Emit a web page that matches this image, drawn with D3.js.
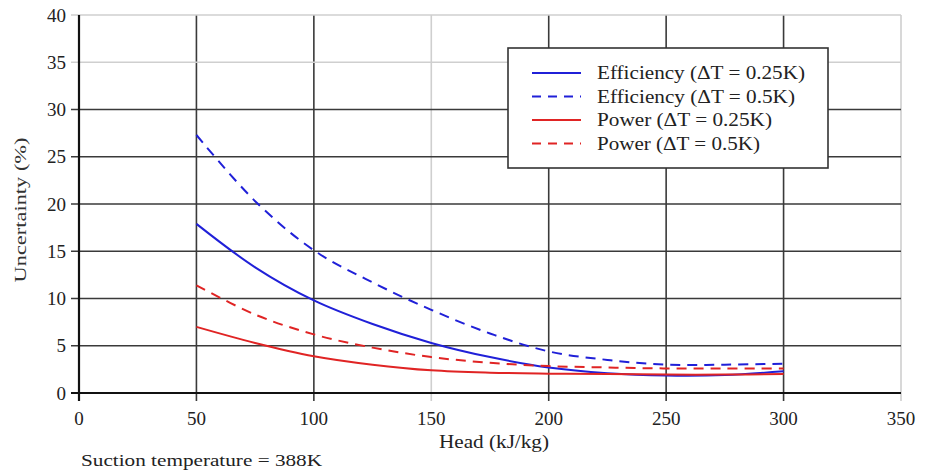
<!DOCTYPE html>
<html><head><meta charset="utf-8">
<script src="https://cdn.jsdelivr.net/npm/d3@7"></script>
<style>body{margin:0;background:#fff}svg{display:block}</style>
</head><body><svg id="c" width="927" height="471" font-family="'Liberation Serif', 'DejaVu Serif', serif"></svg>
<script>
const head = [50, 75, 100, 125, 150, 175, 200, 225, 250, 275, 300];
const effSolid = [17.9, 13.3, 9.8, 7.3, 5.3, 3.8, 2.7, 2.1, 1.85, 1.9, 2.3];
const effDashed = [27.3, 20.3, 15.1, 11.7, 8.8, 6.3, 4.4, 3.5, 3.0, 3.0, 3.1];
const powSolid = [7.0, 5.3, 3.9, 3.0, 2.4, 2.15, 2.05, 2.0, 1.95, 1.95, 2.0];
const powDashed = [11.4, 8.3, 6.2, 4.8, 3.8, 3.2, 2.85, 2.7, 2.6, 2.6, 2.6];
const xTicks = [0, 50, 100, 150, 200, 250, 300, 350];
const yTicks = [0, 5, 10, 15, 20, 25, 30, 35, 40];
const lightX = [150, 350];
const lightY = [35, 40];
const seriesNames = ["Efficiency (ΔT = 0.25K)", "Efficiency (ΔT = 0.5K)", "Power (ΔT = 0.25K)", "Power (ΔT = 0.5K)"];
const seriesData = [effSolid, effDashed, powSolid, powDashed];
const seriesColor = ["#2020d8", "#2020d8", "#e02424", "#e02424"];
const seriesDash = [null, "10,7", null, "10,7"];

const svg = d3.select("#c");
const x = d3.scaleLinear().domain([0, 350]).range([79, 901]);
const y = d3.scaleLinear().domain([0, 40]).range([393, 15]);

svg.append("g").selectAll("line").data(xTicks.filter(d => d > 0)).join("line")
  .attr("x1", d => x(d)).attr("x2", d => x(d)).attr("y1", y(40)).attr("y2", y(0) + 8)
  .attr("stroke", d => lightX.includes(d) ? "#cfcfcf" : "#3a3a3a").attr("stroke-width", 1.6);
svg.append("g").selectAll("line").data(yTicks.filter(d => d > 0)).join("line")
  .attr("x1", x(0) - 8).attr("x2", x(350)).attr("y1", d => y(d)).attr("y2", d => y(d))
  .attr("stroke", d => lightY.includes(d) ? "#cfcfcf" : "#3a3a3a").attr("stroke-width", 1.6);
svg.append("line").attr("x1", x(0) - 8).attr("x2", x(350)).attr("y1", y(0)).attr("y2", y(0))
  .attr("stroke", "#111").attr("stroke-width", 2.2);
svg.append("line").attr("x1", x(0)).attr("x2", x(0)).attr("y1", y(40)).attr("y2", y(0) + 8)
  .attr("stroke", "#111").attr("stroke-width", 2.2);

svg.append("g").selectAll("text").data(yTicks).join("text")
  .attr("x", x(0) - 13).attr("y", d => y(d)).attr("dy", "0.35em").attr("text-anchor", "end")
  .attr("font-size", 19).attr("fill", "#222").text(d => d);
svg.append("g").selectAll("text").data(xTicks).join("text")
  .attr("x", d => x(d)).attr("y", y(0) + 32).attr("text-anchor", "middle")
  .attr("font-size", 19).attr("fill", "#222").text(d => d);

svg.append("text").attr("transform", `translate(26,${y(20) + 6}) rotate(-90)`).attr("text-anchor", "middle")
  .attr("font-size", 17).attr("fill", "#333").attr("textLength", 145).attr("lengthAdjust", "spacingAndGlyphs").text("Uncertainty (%)");
svg.append("text").attr("x", 494).attr("y", 448).attr("text-anchor", "middle").attr("font-size", 18).attr("fill", "#222")
  .attr("textLength", 110).attr("lengthAdjust", "spacingAndGlyphs").text("Head (kJ/kg)");
svg.append("text").attr("x", 81).attr("y", 466).attr("font-size", 17).attr("fill", "#222")
  .attr("textLength", 241).attr("lengthAdjust", "spacingAndGlyphs").text("Suction temperature = 388K");

const line = d3.line().x((d, i) => x(head[i])).y(d => y(d)).curve(d3.curveCatmullRom);
seriesData.forEach((s, k) => {
  svg.append("path").datum(s).attr("d", line).attr("fill", "none")
    .attr("stroke", seriesColor[k]).attr("stroke-width", 2)
    .attr("stroke-dasharray", seriesDash[k]);
});

const legendLen = [208, 198, 175, 163];
const lg = svg.append("g");
lg.append("rect").attr("x", 508).attr("y", 48).attr("width", 320).attr("height", 120)
  .attr("fill", "#fff").attr("stroke", "#333").attr("stroke-width", 1.6);
seriesNames.forEach((n, k) => {
  const yy = 73 + k * 23.5;
  lg.append("line").attr("x1", 532).attr("x2", 581).attr("y1", yy).attr("y2", yy)
    .attr("stroke", seriesColor[k]).attr("stroke-width", 2).attr("stroke-dasharray", seriesDash[k] ? "9,7" : null);
  lg.append("text").attr("x", 597).attr("y", yy).attr("dy", "0.35em").attr("font-size", 18).attr("fill", "#222")
    .attr("textLength", legendLen[k]).attr("lengthAdjust", "spacingAndGlyphs").text(n);
});
</script></body></html>
